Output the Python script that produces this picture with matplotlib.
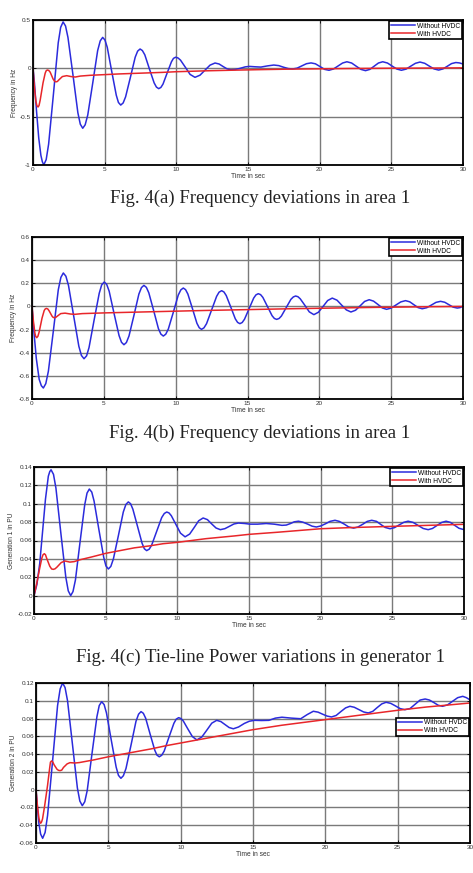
import numpy as np
import matplotlib
matplotlib.use("Agg")
import matplotlib.pyplot as plt

# ==============================================================================
# DATA - (time in sec, value) pairs
# ==============================================================================

legend_labels = ["Without HVDC", "With HVDC"]
x_ticks = [0, 5, 10, 15, 20, 25, 30]

# --- Fig. 4(a) frequency deviation, area 1 ---
a_without = [
    (0, 0), (0.1, -0.15), (0.25, -0.45), (0.4, -0.72), (0.55, -0.9), (0.65, -0.965),
    (0.75, -1.0), (0.92, -0.944), (1.09, -0.784), (1.43, -0.26), (1.76, 0.264), (1.93, 0.424),
    (2.1, 0.48), (2.27, 0.438), (2.44, 0.319), (2.79, -0.07), (3.13, -0.459), (3.30, -0.578),
    (3.47, -0.62), (3.64, -0.584), (3.82, -0.483), (4.17, -0.15), (4.51, 0.183), (4.69, 0.284),
    (4.86, 0.32), (5.02, 0.293), (5.18, 0.218), (5.49, -0.03), (5.81, -0.278), (5.96, -0.353),
    (6.12, -0.38), (6.29, -0.358), (6.46, -0.295), (6.8, -0.09), (7.13, 0.115), (7.3, 0.178),
    (7.47, 0.20), (7.63, 0.184), (7.8, 0.14), (8.12, -0.005), (8.45, -0.15), (8.61, -0.194),
    (8.77, -0.21), (8.92, -0.198), (9.07, -0.163), (9.36, -0.048), (9.66, 0.068), (9.8, 0.103),
    (9.95, 0.115), (10.12, 0.107), (10.29, 0.085), (10.63, 0.011), (10.96, -0.063),
    (11.3, -0.093), (11.65, -0.071), (12.0, -0.019), (12.35, 0.033), (12.7, 0.055),
    (12.98, 0.045), (13.25, 0.02), (13.53, -0.005), (13.8, -0.015), (14.1, -0.012),
    (14.45, 0.0), (14.8, 0.015), (15.1, 0.02), (15.5, 0.016), (15.9, 0.013), (16.35, 0.025),
    (16.8, 0.034), (17.15, 0.028), (17.45, 0.013), (17.8, -0.002), (18.1, -0.007),
    (18.43, 0.002), (18.75, 0.025), (19.08, 0.048), (19.4, 0.056), (19.7, 0.047),
    (20.03, 0.018), (20.35, -0.011), (20.65, -0.02), (20.96, -0.007), (21.28, 0.024),
    (21.6, 0.055), (21.9, 0.068), (22.23, 0.055), (22.55, 0.022), (22.88, -0.011),
    (23.2, -0.024), (23.5, -0.011), (23.8, 0.022), (24.1, 0.055), (24.4, 0.068),
    (24.73, 0.055), (25.05, 0.024), (25.38, -0.007), (25.7, -0.02), (26.03, -0.008),
    (26.35, 0.022), (26.68, 0.052), (27.0, 0.065), (27.33, 0.052), (27.65, 0.023),
    (27.98, -0.006), (28.3, -0.018), (28.6, -0.006), (28.9, 0.021), (29.2, 0.049),
    (29.5, 0.06), (29.75, 0.056), (30.0, 0.045)]
a_with = [
    (0, 0), (0.1, -0.2), (0.2, -0.34), (0.27, -0.385), (0.35, -0.40), (0.42, -0.385),
    (0.5, -0.33), (0.7, -0.15), (0.85, -0.05), (0.92, -0.025), (1.0, -0.017), (1.1, -0.022),
    (1.2, -0.04), (1.4, -0.11), (1.5, -0.132), (1.6, -0.14), (1.7, -0.136), (1.8, -0.12),
    (2.05, -0.085), (2.35, -0.076), (2.65, -0.085), (2.95, -0.09), (3.3, -0.08), (4, -0.072),
    (5, -0.065), (6, -0.058), (7.5, -0.05), (9, -0.042), (10, -0.035), (12, -0.026),
    (14, -0.019), (16, -0.013), (18, -0.008), (20, -0.005), (22, -0.002), (25, 0.001),
    (28, 0.003), (30, 0.005)]
y_ticks_a = [-1, -0.5, 0, 0.5]
y_labels_a = ["-1", "-0.5", "0", "0.5"]

# --- Fig. 4(b) frequency deviation, area 1 ---
b_without = [
    (0, 0), (0.12, -0.2), (0.3, -0.45), (0.5, -0.63), (0.65, -0.685), (0.79, -0.705),
    (0.96, -0.667), (1.14, -0.56), (1.49, -0.208), (1.83, 0.144), (2.01, 0.251), (2.18, 0.289),
    (2.36, 0.261), (2.54, 0.181), (2.9, -0.082), (3.26, -0.344), (3.44, -0.424), (3.62, -0.452),
    (3.8, -0.427), (3.97, -0.355), (4.32, -0.12), (4.68, 0.114), (4.85, 0.186), (5.03, 0.211),
    (5.2, 0.19), (5.37, 0.132), (5.71, -0.06), (6.06, -0.252), (6.23, -0.31), (6.4, -0.331),
    (6.57, -0.312), (6.75, -0.256), (7.1, -0.075), (7.44, 0.107), (7.62, 0.163), (7.79, 0.182),
    (7.96, 0.165), (8.13, 0.118), (8.47, -0.037), (8.8, -0.192), (8.97, -0.239), (9.14, -0.256),
    (9.31, -0.24), (9.49, -0.195), (9.84, -0.049), (10.18, 0.098), (10.36, 0.143),
    (10.53, 0.159), (10.69, 0.145), (10.85, 0.107), (11.17, -0.02), (11.48, -0.146),
    (11.64, -0.184), (11.8, -0.198), (11.97, -0.185), (12.15, -0.149), (12.5, -0.031),
    (12.85, 0.087), (13.02, 0.123), (13.2, 0.136), (13.36, 0.125), (13.52, 0.094),
    (13.84, -0.007), (14.15, -0.107), (14.31, -0.138), (14.47, -0.149), (14.63, -0.139),
    (14.79, -0.111), (15.11, -0.02), (15.43, 0.072), (15.59, 0.1), (15.75, 0.11),
    (15.91, 0.102), (16.07, 0.078), (16.39, -0.001), (16.71, -0.08), (16.87, -0.104),
    (17.03, -0.112), (17.2, -0.104), (17.36, -0.083), (17.69, -0.011), (18.02, 0.061),
    (18.19, 0.082), (18.35, 0.09), (18.51, 0.084), (18.67, 0.066), (18.99, 0.01),
    (19.3, -0.047), (19.62, -0.071), (19.94, -0.05), (20.26, 0.0), (20.58, 0.051),
    (20.9, 0.072), (21.23, 0.054), (21.55, 0.012), (21.88, -0.03), (22.2, -0.048),
    (22.52, -0.033), (22.84, 0.005), (23.15, 0.043), (23.47, 0.058), (23.77, 0.046),
    (24.08, 0.017), (24.38, -0.013), (24.68, -0.025), (25.01, -0.014), (25.34, 0.013),
    (25.67, 0.039), (26.0, 0.05), (26.29, 0.04), (26.58, 0.015), (26.87, -0.01),
    (27.16, -0.02), (27.48, -0.011), (27.8, 0.012), (28.12, 0.035), (28.44, 0.044),
    (28.73, 0.036), (29.02, 0.015), (29.31, -0.006), (29.6, -0.014), (29.8, -0.01),
    (30.0, 0.003)]
b_with = [
    (0, 0), (0.1, -0.13), (0.2, -0.23), (0.26, -0.26), (0.33, -0.27), (0.41, -0.258),
    (0.5, -0.22), (0.7, -0.1), (0.85, -0.035), (0.92, -0.022), (1.0, -0.017), (1.1, -0.022),
    (1.2, -0.04), (1.4, -0.085), (1.47, -0.094), (1.55, -0.098), (1.65, -0.095),
    (1.75, -0.085), (2.0, -0.062), (2.3, -0.058), (2.7, -0.066), (3.0, -0.068), (3.5, -0.062),
    (4, -0.06), (5, -0.056), (6, -0.053), (8, -0.047), (10, -0.041), (12, -0.035),
    (14, -0.03), (16, -0.025), (18, -0.02), (20, -0.016), (22, -0.012), (24, -0.008),
    (26, -0.005), (28, -0.002), (30, 0.0)]
y_ticks_b = [-0.8, -0.6, -0.4, -0.2, 0, 0.2, 0.4, 0.6]
y_labels_b = ["-0.8", "-0.6", "-0.4", "-0.2", "0", "0.2", "0.4", "0.6"]

# --- Fig. 4(c) tie-line power, generator 1 ---
c_without = [
    (0, 0), (0.2, 0.012), (0.4, 0.035), (0.6, 0.07), (0.8, 0.105), (1.0, 0.13), (1.1, 0.135),
    (1.19, 0.137), (1.36, 0.132), (1.53, 0.117), (1.87, 0.0685), (2.22, 0.02), (2.39, 0.0052),
    (2.56, 0.0), (2.72, 0.0044), (2.89, 0.017), (3.21, 0.058), (3.54, 0.099), (3.7, 0.1116),
    (3.86, 0.116), (4.03, 0.1127), (4.19, 0.103), (4.52, 0.0725), (4.86, 0.042),
    (5.02, 0.0323), (5.19, 0.029), (5.36, 0.0318), (5.54, 0.04), (5.89, 0.0655),
    (6.23, 0.091), (6.41, 0.0992), (6.58, 0.102), (6.74, 0.1), (6.9, 0.094), (7.22, 0.0755),
    (7.54, 0.057), (7.7, 0.051), (7.86, 0.049), (8.04, 0.0506), (8.21, 0.055), (8.56, 0.07),
    (8.91, 0.085), (9.09, 0.0894), (9.26, 0.091), (9.42, 0.09), (9.58, 0.087), (9.9, 0.0775),
    (10.22, 0.068), (10.54, 0.064), (10.86, 0.067), (11.17, 0.074), (11.49, 0.0815),
    (11.8, 0.0845), (12.1, 0.0827), (12.4, 0.078), (12.7, 0.0736), (13.0, 0.0718),
    (13.32, 0.0729), (13.63, 0.0754), (13.95, 0.078), (14.26, 0.079), (14.7, 0.0785),
    (15.07, 0.0778), (15.6, 0.0778), (16.2, 0.0785), (16.75, 0.0778), (17.3, 0.0765),
    (17.6, 0.0768), (17.9, 0.0785), (18.15, 0.0803), (18.45, 0.081), (18.75, 0.080),
    (19.1, 0.0778), (19.4, 0.0756), (19.7, 0.0747), (20.0, 0.0758), (20.35, 0.0783),
    (20.65, 0.0808), (21.0, 0.082), (21.3, 0.0808), (21.65, 0.0778), (21.95, 0.0748),
    (22.3, 0.0735), (22.6, 0.0747), (22.95, 0.0778), (23.25, 0.0808), (23.56, 0.082),
    (23.9, 0.0808), (24.2, 0.0774), (24.5, 0.0742), (24.84, 0.0728), (25.15, 0.074),
    (25.47, 0.0769), (25.8, 0.0798), (26.1, 0.081), (26.45, 0.0797), (26.8, 0.0764),
    (27.15, 0.0731), (27.5, 0.0718), (27.8, 0.0731), (28.12, 0.0764), (28.45, 0.0797),
    (28.75, 0.081), (29.05, 0.0797), (29.35, 0.0765), (29.65, 0.0733), (29.96, 0.072)]
c_with = [
    (0, 0), (0.2, 0.014), (0.4, 0.03), (0.55, 0.041), (0.63, 0.0445), (0.72, 0.0456),
    (0.8, 0.0445), (0.9, 0.04), (1.1, 0.032), (1.23, 0.029), (1.35, 0.0286), (1.47, 0.0292),
    (1.6, 0.031), (1.9, 0.036), (2.16, 0.0377), (2.5, 0.0365), (2.8, 0.037), (3.2, 0.039),
    (4, 0.042), (5, 0.046), (6, 0.049), (7, 0.052), (8, 0.054), (9, 0.0565), (10, 0.058),
    (12, 0.062), (14, 0.065), (15, 0.0667), (17, 0.069), (20, 0.0728), (22, 0.074),
    (25, 0.0754), (27.5, 0.0765), (30, 0.0776)]
y_ticks_c = [-0.02, 0, 0.02, 0.04, 0.06, 0.08, 0.1, 0.12, 0.14]
y_labels_c = ["-0.02", "0", "0.02", "0.04", "0.06", "0.08", "0.1", "0.12", "0.14"]

# --- Fig. 4(d) tie-line power, generator 2 ---
d_without = [
    (0, 0), (0.1, -0.02), (0.2, -0.038), (0.32, -0.05), (0.46, -0.0547), (0.63, -0.0481),
    (0.8, -0.029), (1.15, 0.033), (1.49, 0.0945), (1.67, 0.1134), (1.84, 0.12), (2.01, 0.1148),
    (2.18, 0.1), (2.52, 0.051), (2.86, 0.002), (3.03, -0.0128), (3.2, -0.018), (3.37, -0.0136),
    (3.54, -0.001), (3.87, 0.0405), (4.21, 0.082), (4.37, 0.0946), (4.54, 0.099),
    (4.71, 0.0957), (4.87, 0.0864), (5.2, 0.056), (5.54, 0.0254), (5.7, 0.0161),
    (5.87, 0.0128), (6.04, 0.0157), (6.22, 0.0238), (6.57, 0.0503), (6.91, 0.0768),
    (7.09, 0.0849), (7.26, 0.0878), (7.42, 0.0859), (7.58, 0.0804), (7.89, 0.0624),
    (8.21, 0.0444), (8.36, 0.0389), (8.52, 0.037), (8.69, 0.0387), (8.86, 0.0434),
    (9.19, 0.059), (9.53, 0.0746), (9.69, 0.0793), (9.86, 0.081), (10.02, 0.080),
    (10.18, 0.0773), (10.49, 0.0685), (10.81, 0.0597), (11.12, 0.056), (11.46, 0.0592),
    (11.81, 0.067), (12.15, 0.0748), (12.49, 0.078), (12.78, 0.0766), (13.06, 0.0733),
    (13.35, 0.0699), (13.64, 0.0685), (14.0, 0.0705), (14.4, 0.0745), (14.75, 0.077),
    (15.1, 0.078), (15.6, 0.0778), (16.1, 0.078), (16.55, 0.0805), (17.0, 0.0815),
    (17.65, 0.0805), (18.3, 0.0798), (18.75, 0.0845), (19.17, 0.0882), (19.5, 0.0872),
    (19.8, 0.085), (20.12, 0.0828), (20.43, 0.0818), (20.75, 0.0835), (21.07, 0.0878),
    (21.4, 0.092), (21.7, 0.0938), (22.0, 0.0927), (22.33, 0.09), (22.65, 0.0874),
    (22.97, 0.0863), (23.28, 0.0881), (23.58, 0.0923), (23.9, 0.0965), (24.2, 0.0983),
    (24.52, 0.0971), (24.85, 0.0942), (25.17, 0.0912), (25.5, 0.090), (25.85, 0.0912),
    (26.2, 0.096), (26.55, 0.1008), (26.9, 0.102), (27.2, 0.1008), (27.5, 0.098),
    (27.8, 0.095), (28.1, 0.0938), (28.45, 0.0954), (28.8, 0.0995), (29.15, 0.1035),
    (29.5, 0.105), (29.75, 0.1035), (30.0, 0.101)]
d_with = [
    (0, 0), (0.1, -0.018), (0.2, -0.032), (0.26, -0.036), (0.32, -0.0378), (0.38, -0.0365),
    (0.45, -0.033), (0.6, -0.018), (0.8, 0.005), (0.95, 0.025), (1.0, 0.031), (1.08, 0.0323),
    (1.16, 0.0312), (1.25, 0.028), (1.45, 0.023), (1.55, 0.0218), (1.66, 0.0214),
    (1.78, 0.022), (1.9, 0.025), (2.15, 0.029), (2.35, 0.0304), (2.7, 0.030), (3.0, 0.0305),
    (3.5, 0.032), (4, 0.0335), (5, 0.037), (6, 0.04), (7, 0.043), (8, 0.046), (9, 0.0495),
    (10, 0.0525), (12, 0.0585), (14, 0.0645), (15, 0.0675), (17, 0.0725), (20, 0.0788),
    (22, 0.083), (25, 0.0893), (27, 0.093), (30, 0.0975)]
y_ticks_d = [-0.06, -0.04, -0.02, 0, 0.02, 0.04, 0.06, 0.08, 0.1, 0.12]
y_labels_d = ["-0.06", "-0.04", "-0.02", "0", "0.02", "0.04", "0.06", "0.08", "0.1", "0.12"]

captions = ["Fig. 4(a) Frequency deviations in area 1",
            "Fig. 4(b) Frequency deviations in area 1",
            "Fig. 4(c) Tie-line Power variations in generator 1"]

# ==============================================================================
# PLOTTING
# ==============================================================================

plt.rcParams['font.family'] = ['Liberation Sans', 'DejaVu Sans']
plt.rcParams['axes.unicode_minus'] = False

W, H = 473, 873
BLUE = '#2b2bdc'
RED = '#e8262a'


def px_axes(fig, left, top, right, bottom):
    """Axes placed with pixel edges measured on the reference"""
    return fig.add_axes([left / W, 1 - bottom / H, (right - left) / W, (bottom - top) / H])


def style_axes(ax, y_ticks, y_labels, ylabel, legend_kw):
    ax.set_xlim(0, 30)
    ax.set_ylim(y_ticks[0], y_ticks[-1])
    ax.set_xticks(x_ticks)
    ax.set_xticklabels([str(x) for x in x_ticks])
    ax.set_yticks(y_ticks)
    ax.set_yticklabels(y_labels)
    ax.tick_params(direction='in', length=2.5, width=0.6, labelsize=4.6, pad=1.5,
                   top=True, right=True, labelcolor='#333333')
    ax.grid(True, color='#7a7a7a', linewidth=1.0)
    for sp in ax.spines.values():
        sp.set_linewidth(1.3)
        sp.set_color('black')
    ax.set_xlabel('Time in sec', fontsize=4.8, labelpad=0.5, color='#333333')
    ax.set_ylabel(ylabel, fontsize=4.8, labelpad=1.5, color='#333333')
    leg = ax.legend(legend_labels, fontsize=4.8, fancybox=False, framealpha=1,
                    edgecolor='black', borderpad=0.25, labelspacing=0.15,
                    handlelength=3.6, handletextpad=0.4, borderaxespad=0.15, **legend_kw)
    leg.get_frame().set_linewidth(1.2)


fig = plt.figure(figsize=(W / 100, H / 100), dpi=100)

panels = [
    ((33, 20, 463, 165), a_without, a_with, y_ticks_a, y_labels_a, 'Frequency in Hz',
     dict(loc='upper right')),
    ((32, 237, 463, 399), b_without, b_with, y_ticks_b, y_labels_b, 'Frequency in Hz',
     dict(loc='upper right')),
    ((34, 467, 464, 614), c_without, c_with, y_ticks_c, y_labels_c, 'Generation 1 in PU',
     dict(loc='upper right')),
    ((36, 683, 470, 843), d_without, d_with, y_ticks_d, y_labels_d, 'Generation 2 in PU',
     dict(loc='upper right', bbox_to_anchor=(1.0, 0.79))),
]

for box, no_hvdc, with_hvdc, yt, yl, ylab, lkw in panels:
    ax = px_axes(fig, *box)
    t1, y1 = np.array(no_hvdc).T
    t2, y2 = np.array(with_hvdc).T
    ax.plot(t1, y1, color=BLUE, lw=1.1, solid_joinstyle='round')
    ax.plot(t2, y2, color=RED, lw=1.1, solid_joinstyle='round')
    style_axes(ax, yt, yl, ylab, lkw)

# figure captions (serif, like the paper text)
for cap, (cx, cy) in zip(captions, [(260, 198), (260, 433), (260, 657)]):
    fig.text(cx / W, 1 - cy / H, cap, ha='center', va='center', fontsize=13.5,
             family=['Liberation Serif', 'DejaVu Serif'], color='#222222')

fig.savefig('out.png', dpi=100)
